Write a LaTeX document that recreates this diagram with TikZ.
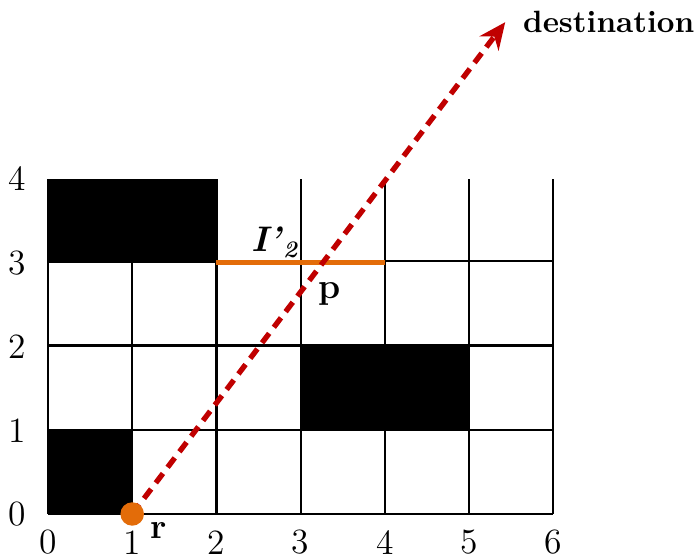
\documentclass[tikz,border=0pt]{standalone}
\usepackage{tikz}
\usetikzlibrary{arrows.meta,positioning}
\definecolor{rayred}{HTML}{C00000}
\definecolor{segorange}{HTML}{E36C09}

\begin{document}
\begin{tikzpicture}[x=1cm, y=0.995cm, font=\large, >={Stealth[length=9pt,width=8pt]},
  cellline/.style={line width=0.75pt},
  ray/.style={rayred, line width=1.8pt, dash pattern=on 4pt off 2.6pt},
  seg/.style={segorange, line width=1.9pt},
  num/.style={inner sep=1pt},
  lbl/.style={inner sep=1pt, font=\large\bfseries}]
\useasboundingbox (-0.570,-0.525) rectangle (7.672,6.135);
% blocked cells
\fill (0,3) rectangle (2,4);
\fill (3,1) rectangle (5,2);
\fill (0,0) rectangle (1,1);
\draw[cellline] (0,0) grid (6,4);
% axis numbers
\foreach \i in {0,...,6} \node[num] (x\i) at (\i,-0.34) {\i};
\foreach \j in {0,...,4} \node[num] (y\j) at (-0.37,\j) {\j};
% crossed edge
\coordinate (e1) at (2,3);
\coordinate (e2) at (4,3);
\draw[seg] (e1) -- (e2);
\node[lbl] (Ilbl) at (2.70,3.24) {\textit{I’}\textsubscript{\textit{2}}};
% ray
\coordinate (r) at (1,0);
\coordinate (dest) at (5.43,5.87);
\draw[ray, ->] (r) -- (dest);
\fill[segorange] (r) circle (0.14);
\node[lbl] (rlbl) at (1.32,-0.2) {r};
\node[lbl] (plbl) at (3.35,2.63) {p};
\node[lbl, font=\fontsize{10.4}{12}\selectfont\bfseries, right=0.17cm of dest] (destlbl) {destination};
\end{tikzpicture}
\end{document}
